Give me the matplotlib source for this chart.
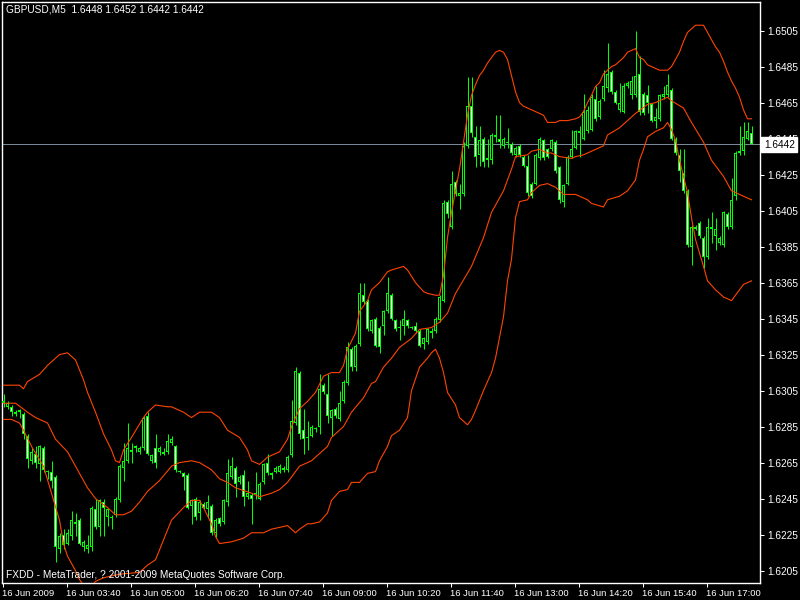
import matplotlib
matplotlib.use("Agg")
import matplotlib.pyplot as plt
import numpy as np

plt.rcParams['font.family'] = ['Liberation Sans', 'DejaVu Sans']

symbol_text = "GBPUSD,M5  1.6448 1.6452 1.6442 1.6442"
footer_text = "FXDD - MetaTrader, ? 2001-2009 MetaQuotes Software Corp."
last_price = 1.6442

open_ = [
1.6299,1.6296,1.6296,1.6292,1.6293,1.6292,1.6280,1.6266,1.6270,1.6264,
1.6273,1.6260,1.6260,1.6257,1.6217,1.6225,1.6220,1.6224,1.6232,1.6233,
1.6218,1.6217,1.6218,1.6239,1.6229,1.6243,1.6235,1.6234,1.6236,1.6244,
1.6262,1.6266,1.6272,1.6273,1.6271,1.6273,1.6291,1.6266,1.6273,1.6271,
1.6270,1.6271,1.6276,1.6274,1.6260,1.6259,1.6258,1.6241,1.6245,1.6237,
1.6242,1.6239,1.6241,1.6226,1.6234,1.6232,1.6243,1.6257,1.6262,1.6254,
1.6258,1.6246,1.6247,1.6248,1.6245,1.6254,1.6265,1.6258,1.6260,1.6260,
1.6262,1.6261,1.6269,1.6287,1.6315,1.6283,1.6279,1.6280,1.6284,1.6285,
1.6308,1.6303,1.6290,1.6295,1.6289,1.6299,1.6309,1.6328,1.6318,1.6331,
1.6358,1.6355,1.6338,1.6345,1.6340,1.6341,1.6349,1.6358,1.6344,1.6340,
1.6341,1.6344,1.6340,1.6341,1.6338,1.6331,1.6332,1.6338,1.6338,1.6344,
1.6355,1.6410,1.6396,1.6421,1.6413,1.6414,1.6441,1.6463,1.6446,1.6436,
1.6445,1.6433,1.6433,1.6447,1.6445,1.6441,1.6443,1.6442,1.6436,1.6441,
1.6435,1.6430,1.6420,1.6420,1.6434,1.6444,1.6439,1.6439,1.6443,1.6429,
1.6410,1.6420,1.6435,1.6440,1.6448,1.6445,1.6449,1.6450,1.6467,1.6457,
1.6467,1.6473,1.6482,1.6471,1.6461,1.6460,1.6474,1.6469,1.6469,1.6481,
1.6470,1.6469,1.6464,1.6455,1.6456,1.6468,1.6469,1.6472,1.6445,1.6436,
1.6426,1.6416,1.6385,1.6395,1.6398,1.6390,1.6379,1.6396,1.6391,1.6387,
1.6386,1.6403,1.6396,1.6413,1.6437,1.6438,1.6445,1.6448]

high = [
1.6303,1.6299,1.6297,1.6294,1.6295,1.6293,1.6281,1.6273,1.6274,1.6275,
1.6274,1.6261,1.6266,1.6258,1.6226,1.6228,1.6228,1.6238,1.6237,1.6234,
1.6222,1.6225,1.6241,1.6245,1.6245,1.6245,1.6240,1.6236,1.6246,1.6264,
1.6276,1.6287,1.6276,1.6275,1.6274,1.6291,1.6293,1.6270,1.6281,1.6274,
1.6273,1.6281,1.6280,1.6275,1.6261,1.6260,1.6259,1.6245,1.6246,1.6244,
1.6243,1.6247,1.6242,1.6234,1.6235,1.6245,1.6267,1.6268,1.6263,1.6258,
1.6261,1.6255,1.6248,1.6260,1.6254,1.6265,1.6270,1.6260,1.6263,1.6264,
1.6263,1.6269,1.6300,1.6318,1.6316,1.6295,1.6288,1.6286,1.6285,1.6314,
1.6309,1.6314,1.6295,1.6296,1.6305,1.6311,1.6332,1.6329,1.6331,1.6365,
1.6365,1.6356,1.6345,1.6346,1.6341,1.6350,1.6368,1.6359,1.6345,1.6344,
1.6350,1.6345,1.6341,1.6343,1.6339,1.6335,1.6340,1.6340,1.6346,1.6358,
1.6411,1.6411,1.6427,1.6422,1.6420,1.6443,1.6479,1.6479,1.6452,1.6452,
1.6446,1.6445,1.6448,1.6458,1.6458,1.6446,1.6451,1.6443,1.6441,1.6442,
1.6436,1.6436,1.6421,1.6437,1.6446,1.6445,1.6440,1.6445,1.6444,1.6430,
1.6420,1.6436,1.6450,1.6450,1.6452,1.6470,1.6463,1.6470,1.6474,1.6467,
1.6483,1.6498,1.6483,1.6472,1.6476,1.6476,1.6477,1.6480,1.6505,1.6491,
1.6471,1.6475,1.6465,1.6462,1.6470,1.6474,1.6481,1.6473,1.6446,1.6439,
1.6439,1.6417,1.6397,1.6397,1.6399,1.6391,1.6401,1.6404,1.6401,1.6391,
1.6405,1.6404,1.6423,1.6438,1.6452,1.6454,1.6454,1.6452]

low = [
1.6296,1.6295,1.6291,1.6291,1.6290,1.6278,1.6262,1.6264,1.6262,1.6255,
1.6260,1.6256,1.6251,1.6210,1.6215,1.6217,1.6219,1.6222,1.6224,1.6219,
1.6216,1.6215,1.6216,1.6228,1.6224,1.6224,1.6230,1.6228,1.6235,1.6243,
1.6255,1.6265,1.6265,1.6271,1.6270,1.6272,1.6269,1.6265,1.6262,1.6269,
1.6269,1.6270,1.6275,1.6260,1.6259,1.6250,1.6239,1.6231,1.6233,1.6233,
1.6239,1.6234,1.6225,1.6223,1.6230,1.6231,1.6241,1.6256,1.6246,1.6253,
1.6241,1.6245,1.6231,1.6245,1.6244,1.6253,1.6258,1.6256,1.6259,1.6259,
1.6260,1.6260,1.6268,1.6286,1.6278,1.6270,1.6272,1.6279,1.6282,1.6281,
1.6303,1.6287,1.6280,1.6290,1.6288,1.6298,1.6308,1.6316,1.6316,1.6330,
1.6353,1.6338,1.6337,1.6329,1.6326,1.6336,1.6348,1.6344,1.6338,1.6333,
1.6336,1.6340,1.6339,1.6337,1.6329,1.6328,1.6331,1.6334,1.6337,1.6343,
1.6354,1.6401,1.6395,1.6413,1.6406,1.6413,1.6440,1.6446,1.6429,1.6430,
1.6429,1.6429,1.6431,1.6443,1.6440,1.6440,1.6440,1.6436,1.6435,1.6435,
1.6429,1.6413,1.6412,1.6419,1.6433,1.6433,1.6434,1.6438,1.6426,1.6409,
1.6407,1.6419,1.6434,1.6439,1.6435,1.6444,1.6448,1.6449,1.6455,1.6456,
1.6466,1.6471,1.6470,1.6464,1.6460,1.6459,1.6473,1.6467,1.6468,1.6458,
1.6458,1.6459,1.6454,1.6451,1.6455,1.6467,1.6468,1.6444,1.6436,1.6421,
1.6415,1.6385,1.6375,1.6394,1.6390,1.6373,1.6378,1.6387,1.6383,1.6386,
1.6385,1.6395,1.6395,1.6411,1.6436,1.6436,1.6444,1.6442]

close = [
1.6298,1.6298,1.6293,1.6293,1.6294,1.6281,1.6267,1.6271,1.6265,1.6274,
1.6261,1.6260,1.6255,1.6218,1.6224,1.6219,1.6226,1.6233,1.6231,1.6220,
1.6221,1.6219,1.6240,1.6229,1.6244,1.6240,1.6239,1.6235,1.6245,1.6263,
1.6266,1.6273,1.6271,1.6274,1.6273,1.6290,1.6270,1.6269,1.6265,1.6273,
1.6271,1.6277,1.6278,1.6261,1.6260,1.6257,1.6240,1.6244,1.6235,1.6243,
1.6240,1.6243,1.6226,1.6233,1.6231,1.6244,1.6259,1.6263,1.6253,1.6257,
1.6246,1.6248,1.6245,1.6248,1.6253,1.6264,1.6259,1.6259,1.6262,1.6263,
1.6261,1.6268,1.6288,1.6316,1.6281,1.6278,1.6279,1.6285,1.6284,1.6306,
1.6304,1.6291,1.6294,1.6291,1.6298,1.6310,1.6329,1.6318,1.6330,1.6359,
1.6354,1.6339,1.6344,1.6330,1.6329,1.6349,1.6359,1.6345,1.6339,1.6340,
1.6345,1.6341,1.6340,1.6338,1.6330,1.6334,1.6339,1.6337,1.6345,1.6357,
1.6409,1.6403,1.6420,1.6414,1.6415,1.6441,1.6463,1.6448,1.6435,1.6444,
1.6432,1.6434,1.6447,1.6446,1.6443,1.6445,1.6443,1.6437,1.6440,1.6436,
1.6430,1.6415,1.6413,1.6436,1.6445,1.6434,1.6435,1.6444,1.6427,1.6411,
1.6419,1.6435,1.6439,1.6449,1.6449,1.6460,1.6461,1.6468,1.6456,1.6466,
1.6474,1.6481,1.6471,1.6465,1.6465,1.6474,1.6476,1.6477,1.6480,1.6460,
1.6459,1.6465,1.6455,1.6457,1.6469,1.6470,1.6475,1.6445,1.6437,1.6427,
1.6416,1.6386,1.6396,1.6396,1.6391,1.6379,1.6396,1.6395,1.6395,1.6390,
1.6404,1.6396,1.6411,1.6437,1.6438,1.6446,1.6449,1.6442]

upper_idx = [0,2,4,5,6,9,11,14,16,18,20,21,23,25,27,28,29,30,32,35,36,38,41,42,45,47,49,52,54,56,
             59,61,62,64,66,69,71,72,74,76,78,80,82,84,85,86,88,89,91,92,94,96,97,100,101,103,105,106,108,109,
             110,111,112,113,114,115,116,117,118,119,120,121,122,123,124,125,126,127,128,129,130,
             132,134,135,136,138,139,141,143,
             144,145,146,147,148,149,150,151,152,153,154,155,156,157,158,159,160,161,162,163,164,
             166,167,168,169,170,171,172,173,174,175,176,177,178,179,180,181,182,183,184,185,186,187]
upper_val = [1.6308,1.6308,1.6308,1.6306,1.6310,1.6314,1.6319,1.6325,1.6326,1.6322,
             1.6311,1.6304,1.6293,1.6281,1.6272,1.6266,1.6265,1.6272,1.6279,1.6290,
             1.6293,1.6297,1.6296,1.6296,1.6293,1.6290,1.6293,1.6293,1.6290,1.6283,
             1.6279,1.6272,1.6266,1.6264,1.6268,1.6271,1.6278,1.6285,1.6295,1.6299,
             1.6304,1.6313,1.6315,1.6315,1.6319,1.6328,1.6337,1.6349,1.6355,1.6361,
             1.6365,1.6371,1.6372,1.6374,1.6372,1.6365,1.6360,1.6359,1.6358,1.6358,
             1.6369,1.6390,1.6404,1.6416,1.6428,1.6443,1.6458,1.6469,1.6475,1.6480,1.6483,
             1.6487,1.6490,1.6493,1.6494,1.6493,1.6489,1.6480,1.6471,1.6465,1.6463,
             1.6461,1.6459,1.6458,1.6454,1.6454,1.6455,1.6455,1.6456,
             1.6457,1.6460,1.6465,1.6469,1.6474,1.6476,1.6481,1.6483,1.6485,1.6486,1.6488,
             1.6490,1.6493,1.6494,1.6495,1.6490,1.6489,1.6486,1.6485,1.6484,1.6483,
             1.6483,1.6485,1.6489,1.6493,1.6499,1.6504,1.6506,1.6508,1.6508,1.6508,1.6504,
             1.6500,1.6496,1.6493,1.6488,1.6482,1.6477,1.6473,1.6468,1.6461,1.6456,1.6456]

mid_idx = [0,3,6,8,11,13,16,18,21,23,26,28,30,32,34,36,39,42,44,47,49,52,54,56,58,62,64,67,69,71,
           73,74,77,79,81,82,85,87,90,92,93,95,97,99,102,104,107,109,111,113,117,120,122,125,127,128,
           131,132,134,136,137,139,142,143,145,147,150,151,154,156,158,161,163,166,167,170,172,175,
           177,180,182,185,187]
mid_val = [1.6298,1.6298,1.6293,1.6290,1.6287,1.6278,1.6271,1.6263,1.6251,1.6245,
           1.6240,1.6236,1.6236,1.6238,1.6243,1.6249,1.6255,1.6263,1.6265,1.6266,
           1.6265,1.6261,1.6256,1.6254,1.6251,1.6248,1.6246,1.6248,1.6250,1.6254,
           1.6260,1.6263,1.6266,1.6270,1.6274,1.6279,1.6285,1.6293,1.6301,1.6309,
           1.6310,1.6318,1.6323,1.6329,1.6334,1.6339,1.6340,1.6343,1.6348,1.6359,
           1.6374,1.6390,1.6404,1.6416,1.6428,1.6435,1.6436,1.6438,1.6439,1.6437,
           1.6437,1.6435,1.6434,1.6435,1.6436,1.6438,1.6441,1.6447,1.6451,1.6455,
           1.6459,1.6464,1.6465,1.6468,1.6466,1.6462,1.6454,1.6443,1.6433,1.6424,
           1.6416,1.6413,1.6411]

low_idx = [0,2,3,4,5,7,10,12,14,15,16,17,18,19,20,21,23,25,29,34,36,38,40,42,45,47,49,50,52,53,
           54,57,60,62,65,67,69,71,73,74,76,77,79,81,82,84,86,87,89,91,93,94,96,97,99,101,102,104,106,107,
           108,109,110,111,113,114,116,117,118,120,122,123,125,126,127,128,129,131,132,134,
           136,138,140,143,146,147,150,151,154,156,158,159,160,161,163,165,166,167,168,169,
           171,172,173,175,176,178,180,182,183,185,187]
low_val = [1.6289,1.6289,1.6288,1.6287,1.6283,1.6274,1.6263,1.6248,1.6233,1.6220,
           1.6213,1.6209,1.6205,1.6200,1.6197,1.6194,1.6199,1.6201,1.6203,1.6204,
           1.6208,1.6211,1.6222,1.6233,1.6240,1.6244,1.6244,1.6240,1.6231,1.6224,
           1.6220,1.6221,1.6223,1.6226,1.6226,1.6228,1.6229,1.6230,1.6226,1.6228,
           1.6231,1.6231,1.6232,1.6237,1.6244,1.6249,1.6250,1.6254,1.6254,1.6259,
           1.6260,1.6266,1.6274,1.6280,1.6283,1.6290,1.6305,1.6318,1.6323,1.6326,
           1.6328,1.6323,1.6315,1.6304,1.6297,1.6290,1.6286,1.6289,1.6294,1.6305,
           1.6315,1.6323,1.6346,1.6366,1.6378,1.6401,1.6410,1.6411,1.6415,1.6419,
           1.6420,1.6418,1.6414,1.6414,1.6411,1.6409,1.6407,1.6411,1.6413,1.6416,
           1.6422,1.6433,1.6439,1.6446,1.6449,1.6451,1.6454,1.6450,1.6444,1.6433,
           1.6415,1.6401,1.6389,1.6374,1.6366,1.6361,1.6357,1.6355,1.6358,1.6364,
           1.6366]

y_ticks = [1.6205, 1.6225, 1.6245, 1.6265, 1.6285, 1.6305, 1.6325, 1.6345,
           1.6365, 1.6385, 1.6405, 1.6425, 1.6445, 1.6465, 1.6485, 1.6505]
x_tick_bars = [0, 16, 32, 48, 64, 80, 96, 112, 128, 144, 160, 176]
x_tick_labels = ["16 Jun 2009", "16 Jun 03:40", "16 Jun 05:00", "16 Jun 06:20",
                 "16 Jun 07:40", "16 Jun 09:00", "16 Jun 10:20", "16 Jun 11:40",
                 "16 Jun 13:00", "16 Jun 14:20", "16 Jun 15:40", "16 Jun 17:00"]

LIME = '#00ff00'
BAND = '#ff4500'
PX = 0.72  # one pixel at 100 dpi

YMIN, YMAX = 1.61981, 1.65209
AX_W_PX, AX_H_PX = 758, 581
ONE_PX = (YMAX - YMIN) / AX_H_PX  # one pixel in price units (style only)
XMIN = -0.375
XMAX = XMIN + AX_W_PX / 4.0

n = min(len(open_), len(high), len(low), len(close))
o = np.array(open_[:n]); h = np.array(high[:n]); l = np.array(low[:n]); c = np.array(close[:n])
x = np.arange(n)

fig = plt.figure(figsize=(8, 6), dpi=100, facecolor='black')
ax = fig.add_axes([2/800, 17/600, AX_W_PX/800, AX_H_PX/600], facecolor='black')

ax.axhline(last_price, color='#778899', lw=PX, zorder=1)

# wicks
ax.vlines(x, l, h, color=LIME, linewidth=PX, zorder=2)

# bodies: lime outer block (3 px), inner fill (1 px) black for bull, white for bear
bottom = np.minimum(o, c)
height = np.abs(c - o)
outer_h = np.maximum(height, ONE_PX)
outer_b = np.where(height < ONE_PX, bottom - ONE_PX / 2, bottom)
ax.bar(x, outer_h, bottom=outer_b, width=0.75, color=LIME, linewidth=0, zorder=3)
fills = np.array(['black' if cc > oo else 'white' for oo, cc in zip(o, c)])
inner_mask = height > 2.5 * ONE_PX
ax.bar(x[inner_mask], height[inner_mask] - 2 * ONE_PX, bottom=bottom[inner_mask] + ONE_PX,
       width=0.25, color=list(fills[inner_mask]), linewidth=0, zorder=3.5)

def band(ix, vals):
    m = min(len(ix), len(vals))
    ax.plot(ix[:m], vals[:m], color=BAND, lw=0.8, zorder=4)

band(upper_idx, upper_val)
band(mid_idx, mid_val)
band(low_idx, low_val)

ax.set_xlim(XMIN, XMAX)
ax.set_ylim(YMIN, YMAX)

for s in ax.spines.values():
    s.set_color('white')
    s.set_linewidth(1.0)

ax.yaxis.tick_right()
ax.set_yticks(y_ticks)
ax.set_yticklabels([f"{v:.4f}" for v in y_ticks])
ax.tick_params(axis='y', colors='white', length=3, width=PX, pad=2, labelsize=7.3, direction='out')

ax.set_xticks([b - 0.25 for b in x_tick_bars])
ax.set_xticklabels(x_tick_labels)
ax.tick_params(axis='x', colors='white', length=3, width=PX, pad=1.5, labelsize=6.8, direction='out')
for lab in ax.get_xticklabels():
    lab.set_ha('left')

fig.text(6/800, 1 - 10/600, symbol_text, color='white', fontsize=7.3, va='center', ha='left')
fig.text(6/800, 1 - 575/600, footer_text, color='white', fontsize=7.3, va='center', ha='left', zorder=5)
fig.text(764/800, 1 - 144.5/600, f"{last_price:.4f}", color='black', fontsize=7.3, va='center', ha='left',
         bbox=dict(facecolor='white', edgecolor='white', pad=0.25, boxstyle='square'), zorder=6)

fig.savefig('out.png', dpi=100, facecolor='black')
